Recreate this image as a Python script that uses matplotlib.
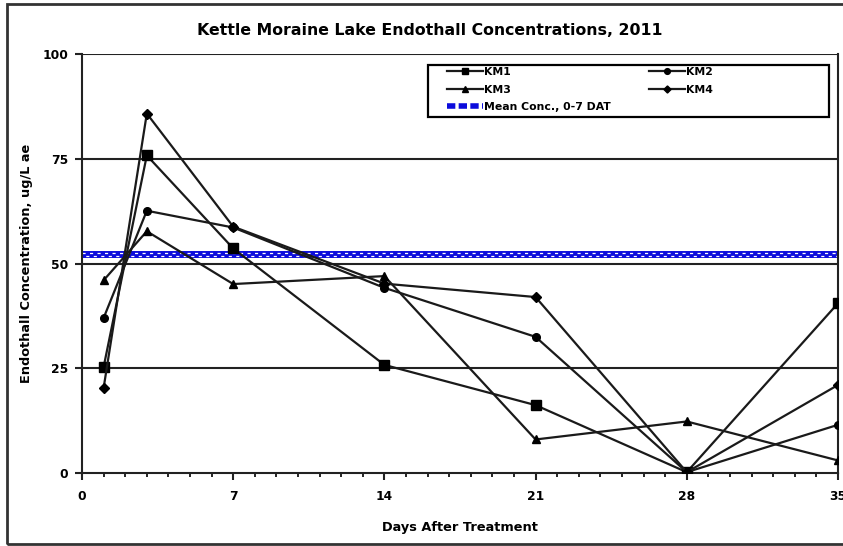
import numpy as np
import matplotlib
matplotlib.use('Agg')
import matplotlib.pyplot as plt
from matplotlib.patches import Rectangle
from matplotlib.lines import Line2D

plt.rcParams['font.family'] = ['DejaVu Sans']
plt.rcParams['font.weight'] = 'bold'

# sampling days and concentrations (ug/L ae)
days = [1, 3, 7, 14, 21, 28, 35]
km1 = [25.3, 75.8, 53.6, 25.8, 16.2, 0.2, 40.5]
km2 = [37.0, 62.6, 58.6, 44.2, 32.5, 0.2, 11.5]
km3 = [46.0, 57.7, 45.1, 47.0, 8.0, 12.3, 3.0]
km4 = [20.3, 85.8, 58.8, 45.2, 42.0, 0.2, 21.0]
mean_conc = 52.2

x_ticks = [0, 7, 14, 21, 28, 35]
y_ticks = [0, 25, 50, 75, 100]

fig = plt.figure(figsize=(8.43, 5.46), dpi=100)
ax = fig.add_axes([0.0973, 0.1337, 0.8967, 0.7673])

# outer frame
fig.patches.append(Rectangle((7/843, 2/546), 1.0, 540/546, transform=fig.transFigure,
                             fill=False, edgecolor='#333333', linewidth=2, clip_on=False))

for yv in y_ticks[1:]:
    ax.axhline(yv, color='#222222', linewidth=1.5, zorder=1)

# mean line: blue band with little white notches
ax.plot([0, 35], [mean_conc, mean_conc], color='#0c0cdc', linewidth=5, zorder=2, solid_capstyle='butt')
ax.plot([0, 35], [mean_conc + 0.4, mean_conc + 0.4], color='white', linewidth=0.9,
        linestyle=(0, (2.5, 3.5)), zorder=2)
ax.plot([0, 35], [mean_conc - 0.4, mean_conc - 0.4], color='white', linewidth=0.9,
        linestyle=(3, (2.5, 3.5)), zorder=2)

mk = dict(color='#1a1a1a', lw=1.6, mfc='black', mec='black', zorder=3)
l1, = ax.plot(days, km1, marker='s', ms=6.5, **mk)
l2, = ax.plot(days, km2, marker='o', ms=5.5, **mk)
l3, = ax.plot(days, km3, marker='^', ms=6, **mk)
l4, = ax.plot(days, km4, marker='D', ms=4.8, **mk)
lm = Line2D([], [], color='#0c0cdc', lw=4, linestyle=(0, (1.5, 0.6)))

ax.set_xlim(0, 35)
ax.set_ylim(0, 100)
ax.set_xticks(x_ticks)
ax.set_xticks(np.arange(0, 36, 1), minor=True)
ax.set_yticks(y_ticks)
ax.tick_params(axis='both', labelsize=8.8, width=1.5, color='#222222')
ax.tick_params(axis='x', which='major', length=5, pad=7)
ax.tick_params(axis='x', which='minor', length=3, width=1.2)
ax.tick_params(axis='y', which='major', length=5, pad=5)
for lab in ax.get_xticklabels() + ax.get_yticklabels():
    lab.set_fontweight('bold')
ax.spines['top'].set_visible(False)
for s in ['left', 'bottom', 'right']:
    ax.spines[s].set_linewidth(1.5)
    ax.spines[s].set_color('#222222')

ax.set_title('Kettle Moraine Lake Endothall Concentrations, 2011', fontsize=11.3,
             fontweight='bold', pad=14, x=0.46)
ax.set_xlabel('Days After Treatment', fontsize=9.3, fontweight='bold', labelpad=13)
ax.set_ylabel('Endothall Concentration, ug/L ae', fontsize=9.3, fontweight='bold', labelpad=7)

# legend frame drawn by hand, entries placed inside
ax.add_patch(Rectangle(((428 - 82) / 756, (473 - 117) / 419), 401 / 756, 52 / 419,
                       transform=ax.transAxes, fill=True, facecolor='white',
                       edgecolor='black', linewidth=1.6, zorder=4))
leg = ax.legend([l1, l3, lm, l2, l4], ['KM1', 'KM3', 'Mean Conc., 0-7 DAT', 'KM2', 'KM4'],
                ncol=2, loc='upper left', bbox_to_anchor=((446 - 82) / 756, (473 - 66) / 419),
                prop={'weight': 'bold', 'size': 7.8}, frameon=False, markerscale=0.75,
                handlelength=3.3, handletextpad=0.15, columnspacing=3.5,
                labelspacing=0.68, borderpad=0.1, borderaxespad=0)
leg.set_zorder(5)

fig.savefig('out.png', dpi=100)
